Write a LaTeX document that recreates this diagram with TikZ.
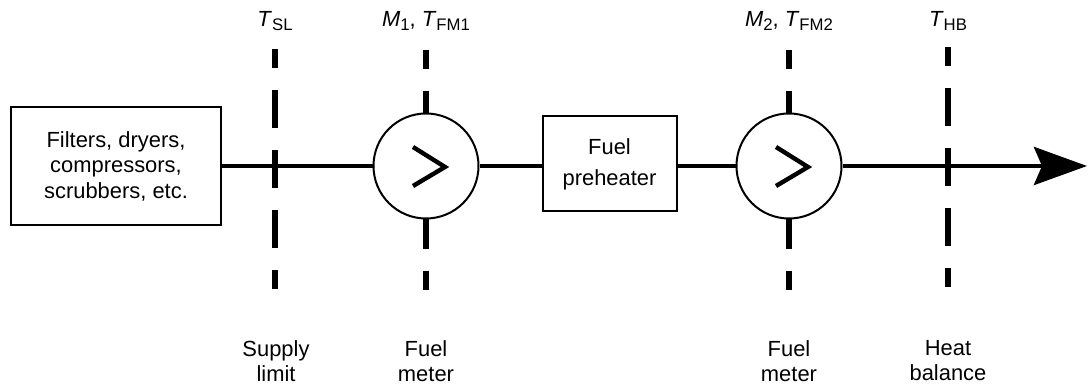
\documentclass[tikz,border=0pt]{standalone}
\usepackage{fontspec}
\setmainfont{Liberation Sans}
\usetikzlibrary{arrows.meta}
\newcommand\lbsub[1]{\raisebox{-1.8bp}{\fontsize{8.4}{9}\selectfont #1}}
\begin{document}
\begin{tikzpicture}[x=0.5bp,y=-0.5bp,
  every node/.style={font=\fontsize{11}{12.8}\selectfont},
  box/.style={draw, line width=1bp, inner sep=0pt, align=center, fill=white},
  meter/.style={draw, circle, line width=1bp, inner sep=0pt, minimum size=52.5bp, fill=white},
  chev/.style={line width=2.2bp, line join=miter},
  pipe/.style={line width=2.3bp},
  cut/.style={line width=2.7bp, dash pattern=on 9.5bp off 11bp on 19bp off 11bp on 19bp off 11bp on 19bp off 11bp on 9.5bp off 200bp},
  lbl/.style={inner sep=0pt, align=center}
]
\useasboundingbox (0,0) rectangle (1088,385);

% section-line end points
\coordinate (slT) at (275,49);   \coordinate (slB) at (275,289);
\coordinate (f1T) at (426,50);   \coordinate (f1B) at (426,290);
\coordinate (f2T) at (789,50);   \coordinate (f2B) at (789,290);
\coordinate (hbT) at (948,47);   \coordinate (hbB) at (948,287);
\coordinate (out) at (1087,166);

% section lines
\draw[cut] (slT) -- (slB);
\draw[cut] (f1T) -- (f1B);
\draw[cut] (f2T) -- (f2B);
\draw[cut] (hbT) -- (hbB);

% components
\node[box, minimum width=105bp, minimum height=59bp] (filt) at (116,166)
  {Filters, dryers,\\compressors,\\scrubbers, etc.};
\node[meter] (m1) at (426,166) {};
\node[box, minimum width=67bp, minimum height=47.5bp, font=\fontsize{11}{15.5}\selectfont] (pre) at (609.5,164)
  {Fuel\\preheater};
\node[meter] (m2) at (789,166) {};

% chevrons
\draw[chev] ([shift={(-13,-19)}]m1.center) -- ([shift={(19,1)}]m1.center) -- ([shift={(-13,20)}]m1.center);
\draw[chev] ([shift={(-13,-19)}]m2.center) -- ([shift={(19,1)}]m2.center) -- ([shift={(-13,20)}]m2.center);

% pipe
\draw[pipe] (filt.east |- m1.west) -- (m1.west);
\draw[pipe] (m1.east) -- (m1.east -| pre.west);
\draw[pipe] (m2.west -| pre.east) -- (m2.west);
\draw[pipe, -{Stealth[length=26.5bp, width=19bp, inset=4bp]}] (m2.east) -- (out);

% top labels
\node[lbl, anchor=base] (tsl) at (275,27) {\textit{T}\lbsub{SL}};
\node[lbl, anchor=base] (tf1) at (426,27) {\textit{M}\lbsub{1}, \textit{T}\lbsub{FM1}};
\node[lbl, anchor=base] (tf2) at (789,27) {\textit{M}\lbsub{2}, \textit{T}\lbsub{FM2}};
\node[lbl, anchor=base] (thb) at (948,27) {\textit{T}\lbsub{HB}};

% bottom labels
\node[lbl, anchor=north] (bsl) at (276,340) {Supply\\limit};
\node[lbl, anchor=north] (bf1) at (426,340) {Fuel\\meter};
\node[lbl, anchor=north] (bf2) at (789,340) {Fuel\\meter};
\node[lbl, anchor=north] (bhb) at (948,340) {Heat\\balance};
\end{tikzpicture}
\end{document}
